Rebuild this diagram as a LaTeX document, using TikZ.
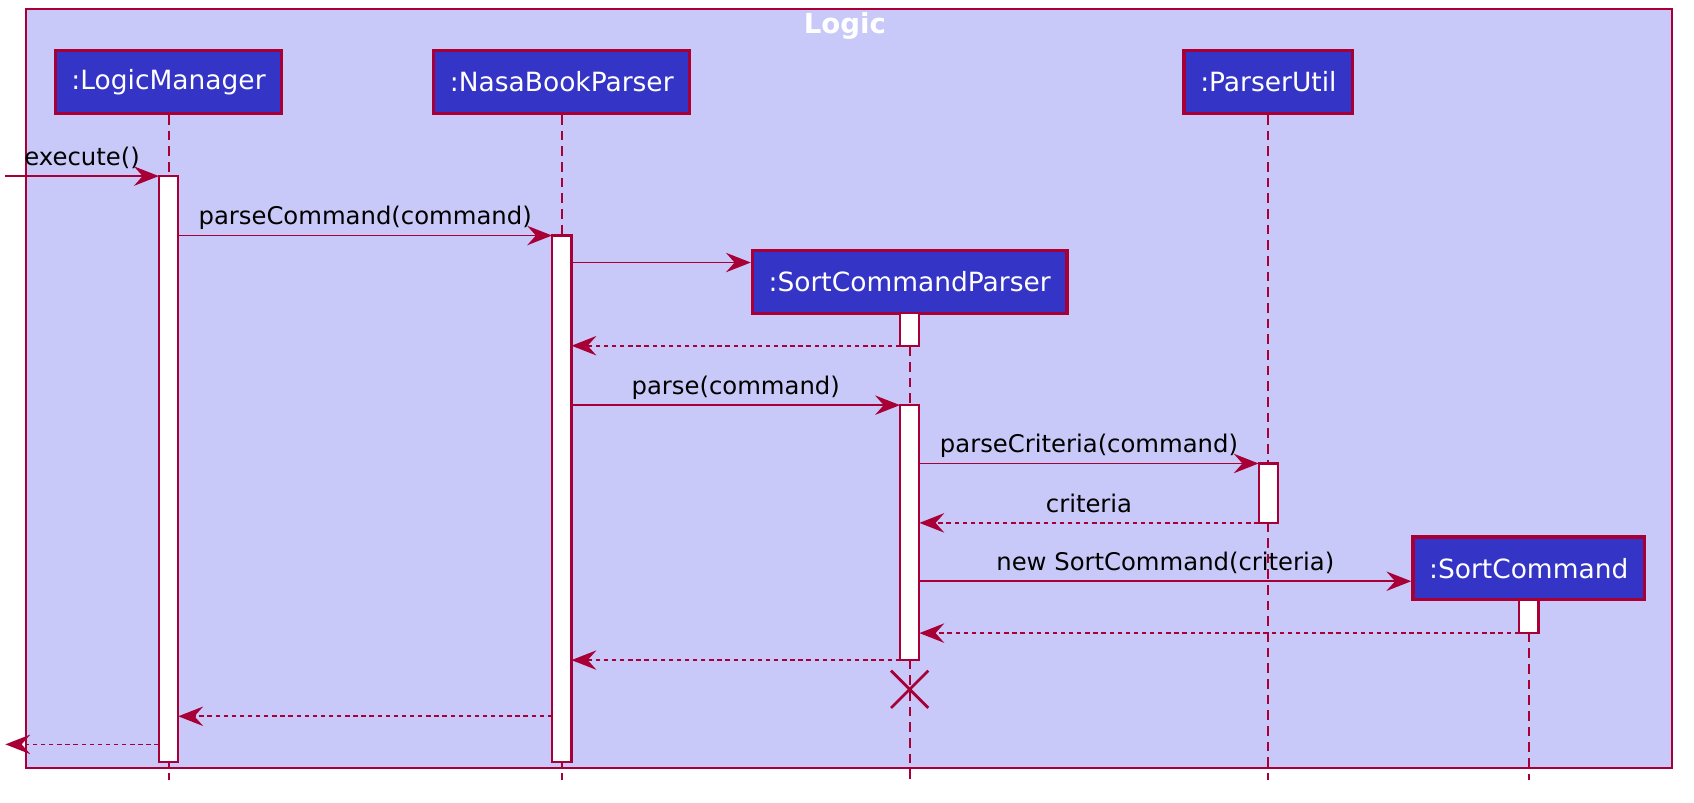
\documentclass[tikz,border=0pt]{standalone}
\usepackage{fontspec}
\setmainfont{DejaVu Sans}
\usepackage{tikz}
\usetikzlibrary{arrows.meta, shapes.misc}
\definecolor{umlred}{HTML}{A80036}
\definecolor{umlblue}{HTML}{3434C6}
\definecolor{umlframe}{HTML}{C9C9F9}
\tikzset{
		participant/.style = {draw=umlred, fill=umlblue, text=white, line width=3pt, minimum height=58pt, inner xsep=15pt, font=\fontsize{24.5}{29}\selectfont},
		activation/.style  = {draw=umlred, fill=white, line width=2pt, minimum width=18pt, inner sep=0pt, outer sep=0pt, anchor=north},
		lifeline/.style    = {draw=umlred, line width=1.8pt, dash pattern=on 9pt off 5.5pt},
		call/.style        = {draw=umlred, line width=1.6pt, ->},
		reply/.style       = {call, dash pattern=on 4pt off 3.5pt},
		msglabel/.style    = {anchor=base, yshift=10pt, inner sep=0pt, text=black, font=\fontsize{22.5}{27}\selectfont},
		destroyed/.style   = {draw=umlred, cross out, line width=2.5pt, minimum size=32pt, inner sep=0pt}
	}

\begin{document}
\begin{tikzpicture}[x=1pt, y=-1pt, >={Stealth[length=23pt, width=18pt, inset=8pt]}]
				\useasboundingbox (0,0) rectangle (1568,743);
				\draw[umlred, fill=umlframe, line width=1.8pt] (24,8) rectangle (1548,711);
				\node[text=white, font=\bfseries\fontsize{25.5}{30}\selectfont] (title) at (782,24) {Logic};

				\node[participant] (lm)  at (156,76)   {:LogicManager};
				\node[participant] (nbp) at (520,76)   {:NasaBookParser};
				\node[participant] (pu)  at (1174,76)  {:ParserUtil};
				\node[participant] (scp) at (842,261)  {:SortCommandParser};
				\node[participant] (sc)  at (1415,526) {:SortCommand};

				\coordinate (end) at (0,722);
				\foreach \p in {lm, nbp, pu, scp, sc}
					\draw[lifeline] (\p.south) -- (\p.south |- end);

				\node[activation, minimum height=542pt] (lmbar)   at (156,163)  {};
				\node[activation, minimum height=487pt] (nbpbar)  at (520,218)  {};
				\node[activation, minimum height=30pt]  (scpbar1) at (842,290)  {};
				\node[activation, minimum height=236pt] (scpbar2) at (842,375)  {};
				\node[activation, minimum height=55pt]  (pubar)   at (1174,429) {};
				\node[activation, minimum height=31pt]  (scbar)   at (1415,555) {};
				\node[destroyed] (scpx) at (842,638) {};

				\coordinate (caller)   at (5,163);
				\coordinate (callback) at (5,689);
				\coordinate (nbpback)  at (520,663);
				\coordinate (scpin)    at ([yshift=18pt]scp.west);
				\coordinate (scin)     at ([yshift=-12pt]sc.west);

				\draw[call]  (caller) -- node[msglabel] {execute()} (lmbar.north west);
				\draw[call]  (lmbar.east |- nbpbar.north) -- node[msglabel] {parseCommand(command)} (nbpbar.north west);
				\draw[call]  (nbpbar.east |- scpin) -- (scpin);
				\draw[reply] (scpbar1.south west) -- (nbpbar.east |- scpbar1.south);
				\draw[call]  (nbpbar.east |- scpbar2.north) -- node[msglabel] {parse(command)} (scpbar2.north west);
				\draw[call]  (scpbar2.east |- pubar.north) -- node[msglabel] {parseCriteria(command)} (pubar.north west);
				\draw[reply] (pubar.south west) -- node[msglabel] {criteria} (scpbar2.east |- pubar.south);
				\draw[call]  (scpbar2.east |- scin) -- node[msglabel] {new SortCommand(criteria)} (scin);
				\draw[reply] (scbar.south west) -- (scpbar2.east |- scbar.south);
				\draw[reply] (scpbar2.south west) -- (nbpbar.east |- scpbar2.south);
				\draw[reply] (nbpbar.west |- nbpback) -- (lmbar.east |- nbpback);
				\draw[reply] (lmbar.west |- callback) -- (callback);
			\end{tikzpicture}
\end{document}
